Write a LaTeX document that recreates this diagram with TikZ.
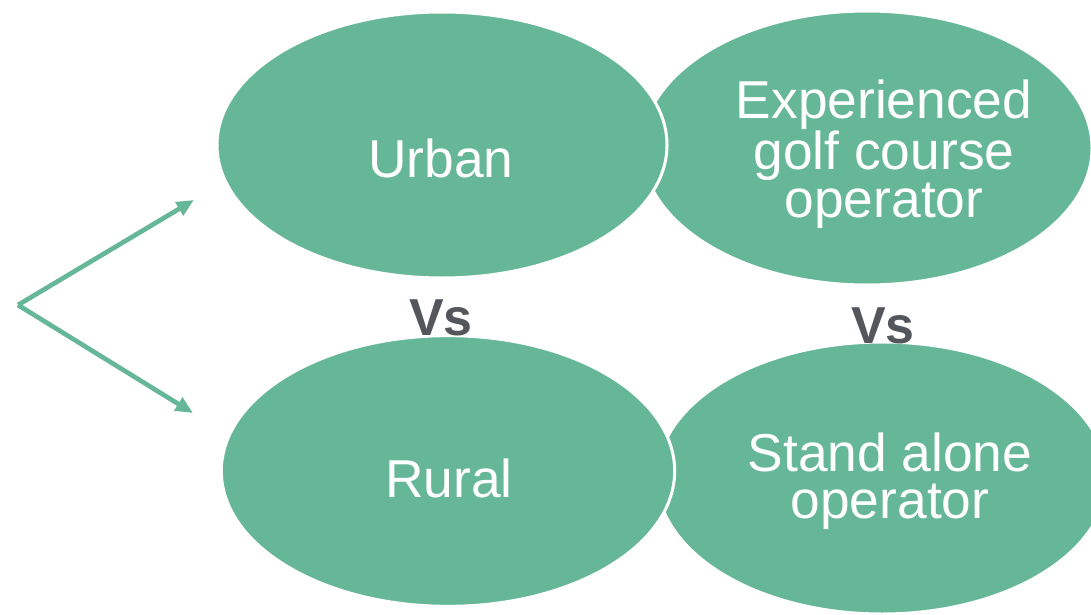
\documentclass[tikz,border=0pt]{standalone}
\usepackage{fontspec}
\setmainfont{Liberation Sans}
\usepackage{tikz}
\usetikzlibrary{shapes.geometric,arrows.meta}
\definecolor{leaf}{RGB}{102,183,151}
\definecolor{slate}{RGB}{83,86,90}

\begin{document}
\begin{tikzpicture}[x=0.75pt,y=-0.75pt,>={Triangle[length=13pt,width=11pt]},
	blob/.style={ellipse,fill=leaf,draw=white,line width=2.25pt,inner sep=0pt},
	word/.style={text=white,font=\fontsize{40}{35.6}\selectfont,align=center},
	vs/.style={text=slate,font=\fontsize{39}{39}\selectfont\bfseries}]
	  \clip (0,0) rectangle (1091,614);
	  \node[blob,minimum width=337.5pt,minimum height=205.5pt] (exp) at (867,148) {};
	  \node[blob,minimum width=337.5pt,minimum height=204pt] (alone) at (882,478) {};
	  \node[blob,minimum width=337.5pt,minimum height=199.5pt] (urban) at (442,145) {};
	  \node[blob,minimum width=340pt,minimum height=203pt] (rural) at (448,471) {};
	  \node[word] (urbantxt) at (441,158) {Urban};
	  \node[word] (ruraltxt) at (449,478) {Rural};
	  \node[word] (exptxt) at (884,154) {Experienced\\golf course\\operator};
	  \node[word] (alonetxt) at (890,481) {Stand alone\\operator};
	  \node[vs] (vs1) at (441,318) {Vs};
	  \node[vs] (vs2) at (883,326) {Vs};
	  \coordinate (hub) at (18,305);
	  \coordinate (up) at (194,200);
	  \coordinate (down) at (193,413);
	  \draw[->,leaf,line width=3.5pt] (hub) -- (up);
	  \draw[->,leaf,line width=3.5pt] (hub) -- (down);
\end{tikzpicture}
\end{document}
